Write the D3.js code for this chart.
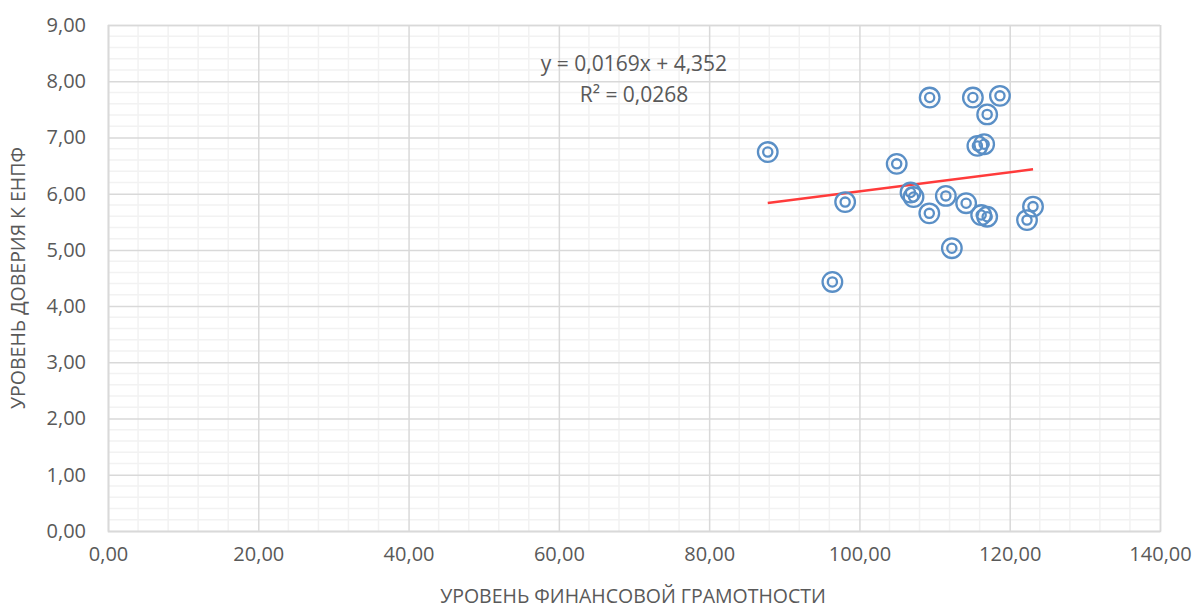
<!DOCTYPE html>
<html lang="ru">
<meta charset="utf-8">
<style>
body { margin: 0; background: #fff; }
svg text { font-family: "Open Sans", "Liberation Sans", sans-serif; }
.tick text { fill: #595959; font-size: 20px; font-family: "Open Sans", "Liberation Sans", sans-serif; }
.title { fill: #595959; font-size: 19.5px; }
</style>
<body>
<svg width="1196" height="610"></svg>
<script src="https://d3js.org/d3.v7.min.js"></script>
<script>

// финансовая грамотность (x) и доверие к ЕНПФ (y)
var literacy = [87.8, 109.35, 115.1, 118.7, 117.0, 115.7, 116.6, 104.96, 106.8, 107.2,
                98.1, 111.5, 109.3, 114.2, 116.2, 117.0, 123.1, 122.3, 112.3, 96.4];
var trust    = [6.74, 7.71, 7.71, 7.74, 7.41, 6.85, 6.88, 6.53, 6.02, 5.94,
                5.85, 5.96, 5.65, 5.83, 5.62, 5.59, 5.77, 5.53, 5.03, 4.43];
var xTicks = [0, 20, 40, 60, 80, 100, 120, 140];
var yTicks = [0, 1, 2, 3, 4, 5, 6, 7, 8, 9];
var slope = 0.0169, intercept = 4.352;

var svg = d3.select("svg");
var fmt = function(d) { return d3.format(".2f")(d).replace(".", ","); };

var x = d3.scaleLinear().domain([0, 140]).range([108, 1160]);
var y = d3.scaleLinear().domain([0, 9]).range([531, 25]);

// minor grid
svg.append("g").selectAll("line")
    .data(d3.range(0, 141, 4).filter(function(d) { return d % 20 != 0; }))
  .enter().append("line")
    .attr("x1", function(d) { return x(d); }).attr("x2", function(d) { return x(d); })
    .attr("y1", y(0)).attr("y2", y(9))
    .attr("stroke", "#f2f2f2").attr("stroke-width", 1.5);
svg.append("g").selectAll("line")
    .data(d3.range(0, 45).map(function(i) { return i / 5; }).filter(function(d) { return Math.abs(d - Math.round(d)) > 0.01; }))
  .enter().append("line")
    .attr("y1", function(d) { return y(d); }).attr("y2", function(d) { return y(d); })
    .attr("x1", x(0)).attr("x2", x(140))
    .attr("stroke", "#f2f2f2").attr("stroke-width", 1.5);

// major grid
svg.append("g")
    .attr("transform", "translate(0," + y(0) + ")")
    .call(d3.axisBottom(x).tickValues(xTicks).tickSize(-(y(0) - y(9))).tickFormat(fmt).tickPadding(16))
    .call(function(g) {
      g.select(".domain").attr("stroke", "#d9d9d9").attr("stroke-width", 1.5);
      g.selectAll(".tick line").attr("stroke", "#d9d9d9").attr("stroke-width", 1.5);
    });
svg.append("g")
    .attr("transform", "translate(" + x(0) + ",0)")
    .call(d3.axisLeft(y).tickValues(yTicks).tickSize(-(x(140) - x(0))).tickFormat(fmt).tickPadding(22))
    .call(function(g) {
      g.select(".domain").attr("stroke", "#d9d9d9").attr("stroke-width", 1.5);
      g.selectAll(".tick line").attr("stroke", "#d9d9d9").attr("stroke-width", 1.5);
    });

// trend line
var xMin = d3.min(literacy), xMax = d3.max(literacy);
svg.append("line")
    .attr("x1", x(xMin)).attr("y1", y(slope * xMin + intercept))
    .attr("x2", x(xMax)).attr("y2", y(slope * xMax + intercept))
    .attr("stroke", "#ff3b3b").attr("stroke-width", 2.5);

// markers
var pts = literacy.map(function(d, i) { return [d, trust[i]]; });
var m = svg.append("g").selectAll("g").data(pts).enter().append("g")
    .attr("transform", function(d) { return "translate(" + x(d[0]) + "," + y(d[1]) + ")"; });
m.append("circle").attr("r", 9.8).attr("fill", "none").attr("stroke", "#5a8fc6").attr("stroke-width", 2.3);
m.append("circle").attr("r", 4.6).attr("fill", "none").attr("stroke", "#5a8fc6").attr("stroke-width", 2.3);

// equation
svg.append("text").attr("class", "title").attr("x", 634).attr("y", 71)
    .attr("text-anchor", "middle").style("font-size", "21px").text("y = 0,0169x + 4,352");
svg.append("text").attr("class", "title").attr("x", 634).attr("y", 102)
    .attr("text-anchor", "middle").style("font-size", "21px").text("R² = 0,0268");

// axis titles
svg.append("text").attr("class", "title")
    .attr("x", 633).attr("y", 603).attr("text-anchor", "middle")
    .text("УРОВЕНЬ ФИНАНСОВОЙ ГРАМОТНОСТИ");
svg.append("text").attr("class", "title")
    .attr("transform", "translate(25,278) rotate(-90)").attr("text-anchor", "middle")
    .text("УРОВЕНЬ ДОВЕРИЯ К ЕНПФ");

</script>
</body>
</html>
